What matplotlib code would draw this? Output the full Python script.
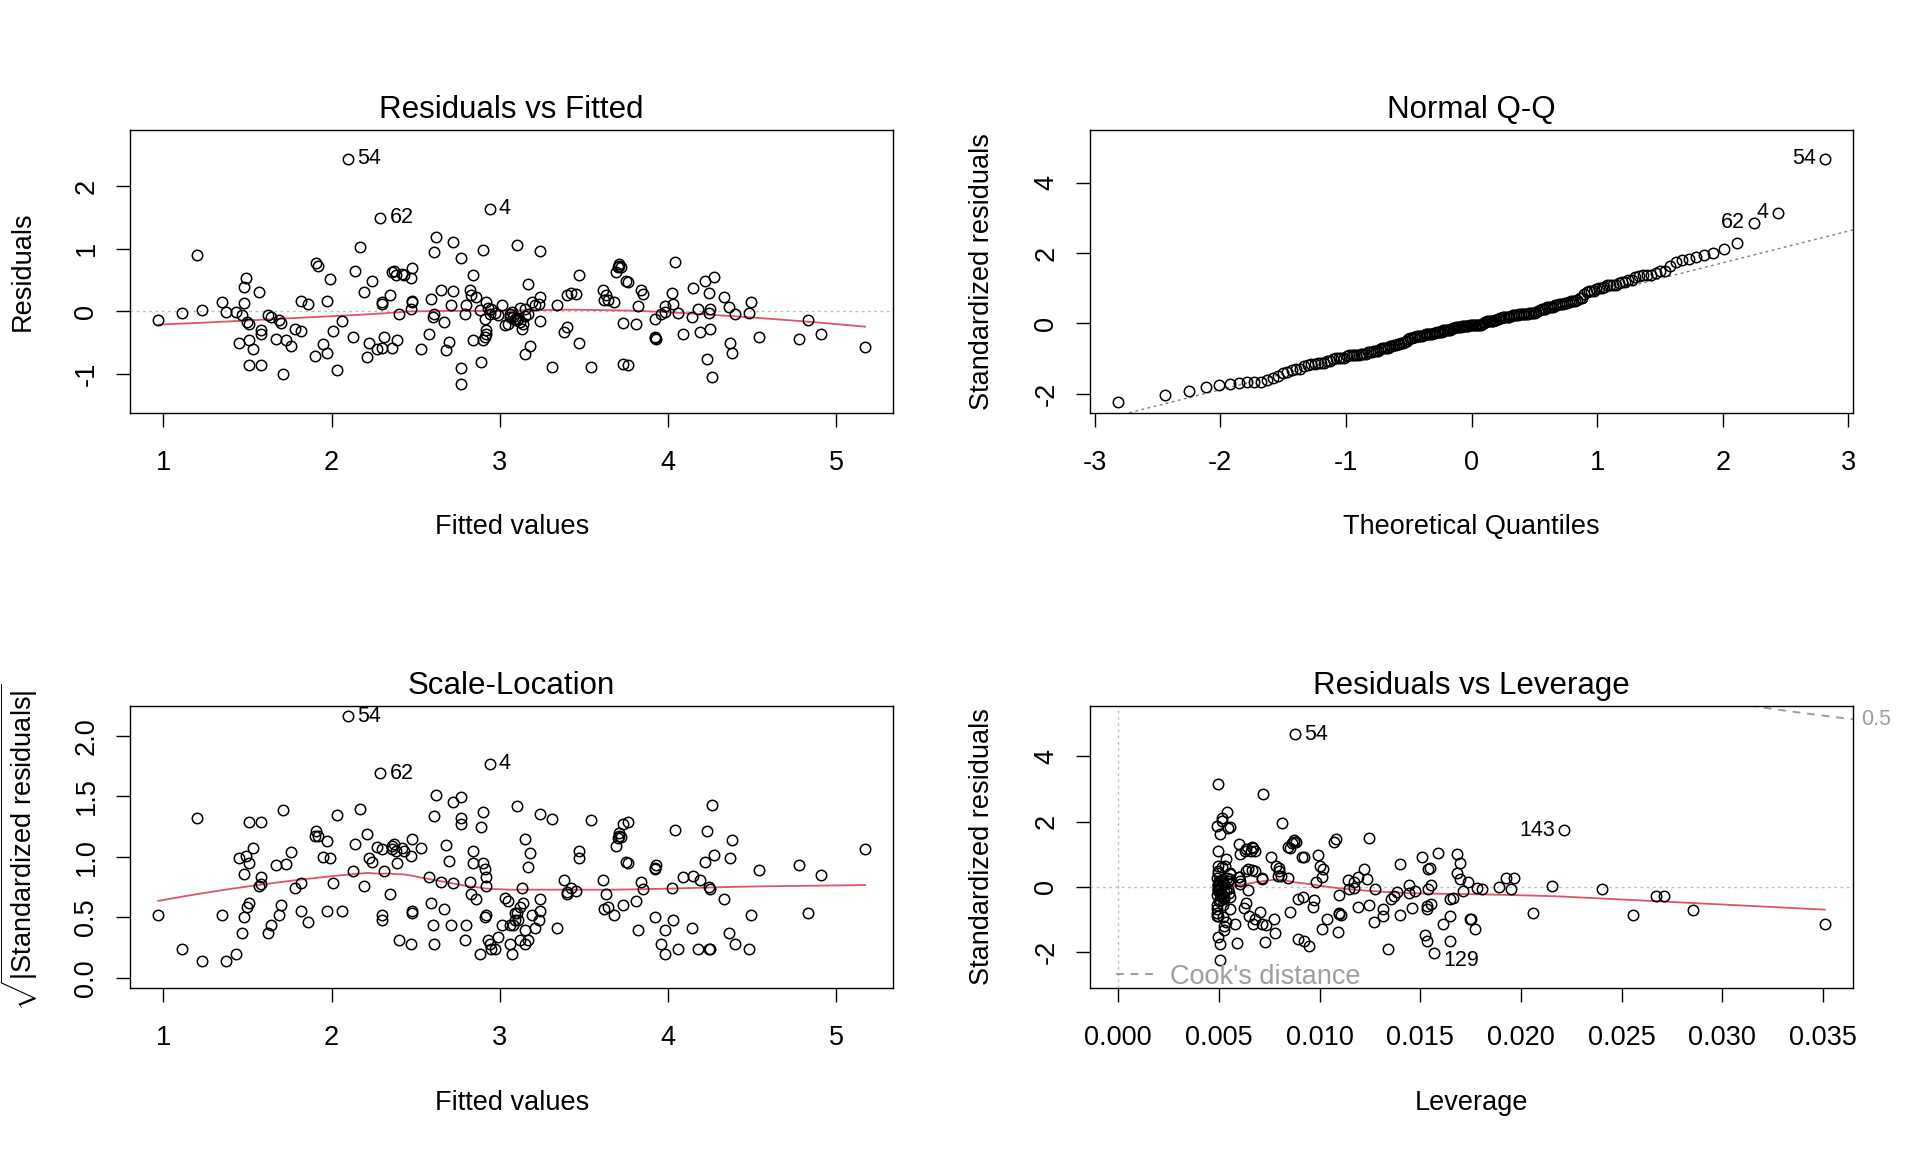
import numpy as np
import matplotlib
matplotlib.use("Agg")
import matplotlib.pyplot as plt
from matplotlib.lines import Line2D
from matplotlib.transforms import blended_transform_factory
from statistics import NormalDist

# ---------------- data (fitted value, raw residual) ----------------
# the first five observations are the labelled ones
obs_labels = ["54", "4", "62", "143", "129"]
fitted = [2.10, 2.94, 2.29, 1.20, 4.26,
          0.97, 1.11, 1.23, 1.35, 1.37, 1.43, 1.45, 1.47, 1.48, 1.48, 1.49, 1.50, 1.51, 1.51, 1.53,
          1.51, 1.57, 1.58, 1.58, 1.58, 1.62, 1.64, 1.67, 1.69, 1.70, 1.71, 1.73, 1.76, 1.78, 1.82,
          1.82, 1.86, 1.90, 1.91, 1.92, 1.95, 1.97, 1.97, 1.99, 2.01, 2.03, 2.06, 2.13, 2.14, 2.17,
          2.19, 2.21, 2.22, 2.24, 2.27, 2.30, 2.30, 2.31, 2.35, 2.36, 2.37, 2.39, 2.38, 2.40, 2.43,
          2.48, 2.47, 2.48, 2.47, 2.53, 2.58, 2.59, 2.61, 2.62, 2.60, 2.61, 2.65, 2.67, 2.68, 2.70,
          2.71, 2.72, 2.72, 2.77, 2.77, 2.77, 2.80, 2.82, 2.84, 2.83, 2.84, 2.86, 2.89, 2.90, 2.90,
          2.92, 2.92, 2.91, 2.93, 2.94, 2.97, 3.03, 3.06, 3.05, 3.10, 3.09, 2.92, 2.91, 3.07, 3.12,
          3.17, 3.14,
          3.08, 3.10, 3.11, 3.13, 3.15, 3.15, 3.17, 3.18, 3.19, 3.21, 3.23, 3.24, 3.24, 3.24, 3.31,
          3.34, 3.38, 3.40, 3.40, 3.42, 3.47, 3.47, 3.54, 3.61, 3.62, 3.63, 3.64, 3.68, 3.69, 3.70,
          3.71, 3.72, 3.73, 3.73, 3.75, 3.76, 3.76, 3.81, 3.82, 3.84, 3.85, 3.92, 3.92, 3.93, 3.96,
          3.98, 3.98, 4.02, 4.03, 4.04, 4.06, 4.09, 4.14, 4.15, 4.18, 4.19, 4.22, 4.23, 4.24, 4.24,
          4.25, 4.25, 4.27, 4.33, 4.36, 4.37, 4.38, 4.40, 4.48, 4.49, 4.54, 4.78, 4.83, 4.91, 5.17,
          3.71, 3.92, 2.36, 2.48, 2.30, 3.06, 3.09, 3.12, 3.15, 2.95, 2.99, 2.88, 3.01, 2.79, 3.45, 2.42]
residuals = [2.44, 1.64, 1.49, 0.90, -1.06,
             -0.14, -0.03, 0.01, 0.14, -0.01, -0.02, -0.51, -0.07, 0.13, 0.38, 0.53, -0.18, -0.47, -0.86, -0.60,
             -0.20, 0.30, -0.31, -0.36, -0.86, -0.07, -0.10, -0.45, -0.14, -0.19, -1.00, -0.46, -0.56, -0.29, 0.16,
             -0.32, 0.11, -0.72, 0.77, 0.72, -0.52, -0.67, 0.16, 0.51, -0.32, -0.94, -0.16, -0.41, 0.64, 1.02,
             0.30, -0.74, -0.51, 0.48, -0.61, -0.59, 0.14, -0.41, 0.25, -0.59, 0.64, -0.47, 0.57, -0.05, 0.57,
             0.69, 0.53, 0.16, 0.04, -0.60, -0.36, 0.20, 0.94, 1.19, -0.10, -0.04, 0.33, -0.17, -0.63, -0.49,
             0.10, 0.32, 1.10, -0.91, -1.17, 0.85, 0.10, 0.33, 0.57, 0.25, -0.47, 0.22, -0.81, 0.98, -0.47,
             0.14, -0.36, -0.13, 0.05, -0.04, -0.03, -0.23, -0.04, -0.21, 1.05, -0.15, -0.30, -0.42, -0.02, 0.05,
             -0.05, -0.20,
             -0.10, -0.15, -0.12, -0.29, 0.04, -0.69, 0.44, -0.56, 0.14, 0.09, 0.12, 0.22, 0.96, -0.16, -0.90,
             0.09, -0.34, -0.26, 0.25, 0.29, 0.57, -0.51, -0.89, 0.34, 0.17, 0.25, 0.18, 0.14, 0.62, 0.70,
             0.75, 0.71, -0.19, -0.84, 0.48, 0.47, -0.87, -0.21, 0.08, 0.33, 0.28, -0.13, -0.42, -0.45, -0.04,
             0.08, -0.02, 0.29, 0.12, 0.78, -0.03, -0.36, -0.09, 0.37, 0.03, -0.34, 0.48, -0.77, 0.29, -0.03,
             0.03, -0.28, 0.54, 0.22, 0.07, -0.51, -0.67, -0.04, -0.03, 0.14, -0.41, -0.45, -0.15, -0.37, -0.58,
             0.72, -0.43, 0.62, 0.15, 0.12, -0.10, -0.12, -0.18, -0.08, 0.03, -0.06, 0.02, 0.10, -0.05, 0.27, 0.60]
resid_label_ids = [0, 1, 2]     # labelled in panels 1-3
cook_label_ids = [0, 3, 4]      # labelled in panel 4

titles = ["Residuals vs Fitted", "Normal Q-Q", "Scale-Location", "Residuals vs Leverage"]
fit_ticks = [1, 2, 3, 4, 5]
qq_xticks = [-3, -2, -1, 0, 1, 2, 3]
res_yticks = [-1, 0, 1, 2]
std_yticks = [-2, 0, 2, 4]
sl_yticks = [0.0, 0.5, 1.0, 1.5, 2.0]
lev_xticks = [0.000, 0.005, 0.010, 0.015, 0.020, 0.025, 0.030, 0.035]
cook_levels = [0.5]

# ---------------- lm diagnostic quantities ----------------
fv = np.array(fitted)
r = np.array(residuals)
n = len(fv)
p = 2
dev = fv - fv.mean()
hat = 1.0 / n + dev ** 2 / np.sum(dev ** 2)
s = np.sqrt(np.sum(r ** 2) / (n - p))
rs = r / (s * np.sqrt(1 - hat))
sqrt_abs = np.sqrt(np.abs(rs))
nd = NormalDist()
ranks = np.argsort(np.argsort(rs))
theo_sorted = np.array([nd.inv_cdf((i + 0.5) / n) for i in range(n)])
theo = theo_sorted[ranks]


def lowess(x, y, f=2 / 3, iters=3):
    o = np.argsort(x)
    x = np.asarray(x, float)[o]
    y = np.asarray(y, float)[o]
    m = len(x)
    k = int(np.ceil(f * m))
    rob = np.ones(m)
    est = np.zeros(m)
    for _ in range(iters + 1):
        for i in range(m):
            d = np.abs(x - x[i])
            h = max(np.sort(d)[k - 1], 1e-12)
            u = np.clip(d / h, 0, 1)
            w = (1 - u ** 3) ** 3 * rob
            sw = w.sum()
            xm = (w * x).sum() / sw
            ym = (w * y).sum() / sw
            b = (w * (x - xm) ** 2).sum()
            if b > 1e-14:
                est[i] = ym + (w * (x - xm) * (y - ym)).sum() / b * (x[i] - xm)
            else:
                est[i] = ym
        e = y - est
        sc = np.median(np.abs(e))
        if sc <= 0:
            break
        u = np.clip(e / (6 * sc), -1, 1)
        rob = (1 - u ** 2) ** 2
    return x, est


def ext(lo, hi, f):
    d = (hi - lo) * f
    return lo - d, hi + d


# ---------------- styling ----------------
plt.rcParams["font.family"] = ["Liberation Sans", "DejaVu Sans"]
plt.rcParams["mathtext.fontset"] = "custom"
plt.rcParams["mathtext.rm"] = "Liberation Sans"
plt.rcParams["mathtext.it"] = "Liberation Sans:italic"
plt.rcParams["mathtext.bf"] = "Liberation Sans:bold"
plt.rcParams["axes.unicode_minus"] = False

FS = 19.5
FS_T = 22.5
FS_ID = 15.5
RED = "#DF536B"
GRAY = "#BEBEBE"
GRAY50 = "#7F7F7F"
COOK = "#9E9E9E"
DOT = (0, (2, 2.5))
DASH = (0, (4, 3.5))

fig = plt.figure(figsize=(19.2, 11.52), dpi=100)
ax1 = fig.add_axes([0.06771, 0.64175, 0.39755, 0.24540])
ax2 = fig.add_axes([0.56771, 0.64175, 0.39740, 0.24540])
ax3 = fig.add_axes([0.06771, 0.14210, 0.39755, 0.24531])
ax4 = fig.add_axes([0.56771, 0.14210, 0.39740, 0.24531])


def style(ax, title, xlabel, ylabel, ypad=27.5):
    for sp in ax.spines.values():
        sp.set_linewidth(1.0)
    ax.tick_params(axis="both", direction="out", length=10, width=1.0, labelsize=FS)
    ax.tick_params(axis="x", pad=16.5)
    ax.tick_params(axis="y", pad=12, labelrotation=90)
    for lab in ax.get_yticklabels():
        lab.set_va("center")
    ax.set_title(title, fontsize=FS_T, pad=8.5)
    ax.set_xlabel(xlabel, fontsize=FS, labelpad=28)
    ax.set_ylabel(ylabel, fontsize=FS, labelpad=ypad)


def pts(ax, x, y):
    ax.plot(x, y, "o", mfc="none", mec="black", ms=7.5, mew=1.1, zorder=3)


def label(ax, x, y, text, right):
    dy = -5.5 if y < 0 else 0
    ax.annotate(text, (x, y), xytext=(6.5 if right else -6.5, dy), textcoords="offset points",
                ha="left" if right else "right", va="center", fontsize=FS_ID, zorder=4)


# Panel 1: Residuals vs Fitted
xl = ext(fv.min(), fv.max(), 0.04)
yl = ext(*ext(r.min(), r.max(), 0.08), 0.04)
ax1.axhline(0, color=GRAY, ls=DOT, lw=1.0, zorder=1)
pts(ax1, fv, r)
lx, ly = lowess(fv, r)
ax1.plot(lx, ly, color=RED, lw=1.3, zorder=2)
mid = (fv.min() + fv.max()) / 2
for i in resid_label_ids:
    label(ax1, fv[i], r[i], obs_labels[i], fv[i] <= mid)
ax1.set_xlim(xl)
ax1.set_ylim(yl)
ax1.set_xticks(fit_ticks)
ax1.set_yticks(res_yticks)
ax1.set_xticklabels([str(t) for t in fit_ticks])
ax1.set_yticklabels([str(t) for t in res_yticks])
style(ax1, titles[0], "Fitted values", "Residuals")

# Panel 2: Normal Q-Q
ylo, yhi = rs.min(), rs.max()
yhi = yhi + (yhi - ylo) * 0.075
ax2.set_xlim(ext(theo.min(), theo.max(), 0.04))
ax2.set_ylim(ext(ylo, yhi, 0.04))
q_y = np.percentile(rs, [25, 75])
q_x = np.array([nd.inv_cdf(0.25), nd.inv_cdf(0.75)])
slope = (q_y[1] - q_y[0]) / (q_x[1] - q_x[0])
inter = q_y[0] - slope * q_x[0]
ax2.axline((0, inter), slope=slope, color=GRAY50, ls=DOT, lw=1.0, zorder=1)
pts(ax2, theo, rs)
tmid = (theo.min() + theo.max()) / 2
for i in resid_label_ids:
    label(ax2, theo[i], rs[i], obs_labels[i], theo[i] <= tmid)
ax2.set_xticks(qq_xticks)
ax2.set_yticks(std_yticks)
ax2.set_xticklabels([str(t) for t in qq_xticks])
ax2.set_yticklabels([str(t) for t in std_yticks])
style(ax2, titles[1], "Theoretical Quantiles", "Standardized residuals")

# Panel 3: Scale-Location
pts(ax3, fv, sqrt_abs)
lx, ly = lowess(fv, sqrt_abs)
ax3.plot(lx, ly, color=RED, lw=1.3, zorder=2)
for i in resid_label_ids:
    label(ax3, fv[i], sqrt_abs[i], obs_labels[i], fv[i] <= mid)
ax3.set_xlim(xl)
ax3.set_ylim(ext(0, sqrt_abs.max(), 0.04))
ax3.set_xticks(fit_ticks)
ax3.set_yticks(sl_yticks)
ax3.set_xticklabels([str(t) for t in fit_ticks])
ax3.set_yticklabels([f"{t:.1f}" for t in sl_yticks])
style(ax3, titles[2], "Fitted values",
      r"$\sqrt{|\mathrm{Standardized\ residuals}|}$", ypad=24)

# Panel 4: Residuals vs Leverage
x4 = ext(0, hat.max(), 0.04)
y4 = ext(*ext(rs.min(), rs.max(), 0.08), 0.04)
ax4.set_xlim(x4)
ax4.set_ylim(y4)
ax4.axhline(0, color=GRAY, ls=DOT, lw=1.0, zorder=1)
ax4.axvline(0, color=GRAY, ls=DOT, lw=1.0, zorder=1)
pts(ax4, hat, rs)
lx, ly = lowess(hat, rs)
ax4.plot(lx, ly, color=RED, lw=1.3, zorder=2)
hh = np.linspace(min(hat.min(), hat.max() / 100), x4[1], 101)
tr = blended_transform_factory(ax4.transAxes, ax4.transData)
for lev in cook_levels:
    cl = np.sqrt(lev * p * (1 - hh) / hh)
    ax4.plot(hh, cl, color=COOK, ls=DASH, lw=1.4, zorder=1)
    ax4.plot(hh, -cl, color=COOK, ls=DASH, lw=1.4, zorder=1)
    yv = np.sqrt(lev * p * (1 - x4[1]) / x4[1])
    for yy in (yv, -yv):
        if y4[0] <= yy <= y4[1]:
            ax4.annotate(f"{lev:g}", (1.0, yy), xycoords=tr, xytext=(6, 0), textcoords="offset points",
                         ha="left", va="center", fontsize=FS_ID, color=COOK, annotation_clip=False)
hmid = (hat.min() + hat.max()) / 2
for i in cook_label_ids:
    label(ax4, hat[i], rs[i], obs_labels[i], hat[i] <= hmid)
ax4.legend(handles=[Line2D([], [], color=COOK, ls=DASH, lw=1.4)], labels=["Cook's distance"],
           loc="lower left", bbox_to_anchor=(0.03, -0.014), borderaxespad=0, borderpad=0.1,
           frameon=False, fontsize=FS, labelcolor=COOK, handlelength=1.5, handletextpad=0.5)
ax4.set_xticks(lev_xticks)
ax4.set_yticks(std_yticks)
ax4.set_xticklabels([f"{t:.3f}" for t in lev_xticks])
ax4.set_yticklabels([str(t) for t in std_yticks])
style(ax4, titles[3], "Leverage", "Standardized residuals")

fig.savefig("out.png", dpi=100)
